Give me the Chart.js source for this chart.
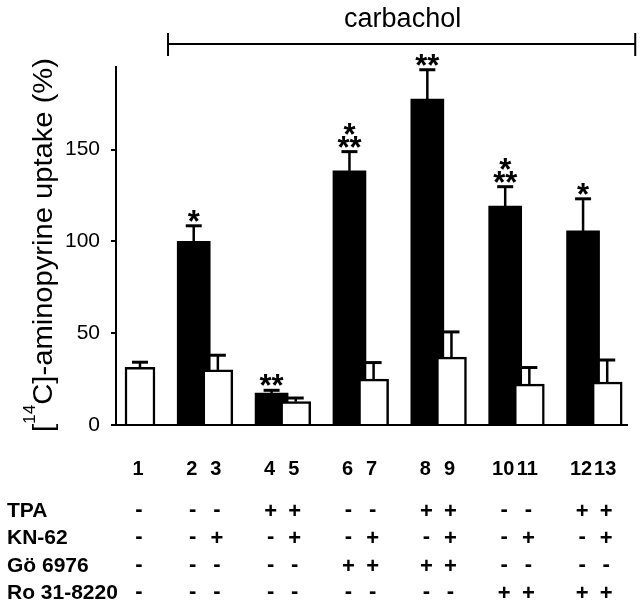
<!DOCTYPE html>
<html>
<head>
<meta charset="utf-8">
<script src="https://cdn.jsdelivr.net/npm/chart.js@4.4.0/dist/chart.umd.min.js"></script>
<style>
  html, body { margin: 0; padding: 0; background: #fff; }
  canvas { display: block; }
</style>
</head>
<body>
<canvas id="grafiek" width="640" height="607"></canvas>
<script>
// groepen: 0 = alleen controle (balk 1), daarna paren zwart/wit
const groups = [0, 1, 2, 3, 4, 5, 6];
const blackNumbers = ['', '2', '4', '6', '8', '10', '12'];
const whiteNumbers = ['1', '3', '5', '7', '9', '11', '13'];
const blackValues = [null, 100, 17.4, 138.4, 177.5, 119.3, 105.7];
const blackErrors = [null, 8.5, 1.5, 10.5, 16, 10.5, 17.5];
const whiteValues = [31.4, 30, 12.7, 25, 37, 22.3, 23.4];
const whiteErrors = [2.8, 8, 2, 9, 13.7, 9, 12];
const blackStars = [[], ['*'], ['**'], ['*', '**'], ['**'], ['*', '**'], ['*']];
const yTicks = [0, 50, 100, 150];

const rowLabels = ['TPA', 'KN-62', 'Gö 6976', 'Ro 31-8220'];
const tpa      = ['-', '-', '-', '+', '+', '-', '-', '+', '+', '-', '-', '+', '+'];
const kn62     = ['-', '-', '+', '-', '+', '-', '+', '-', '+', '-', '+', '-', '+'];
const go6976   = ['-', '-', '-', '-', '-', '+', '+', '+', '+', '-', '-', '-', '-'];
const ro318220 = ['-', '-', '-', '-', '-', '-', '-', '-', '-', '+', '+', '+', '+'];
const topLabel = 'carbachol';
const yTitle = ['[', '14', 'C]-aminopyrine uptake (%)'];

const FONT = "'Liberation Sans', Arial, Helvetica, sans-serif";
const SHIFT_BLACK = -0.15;
const SHIFT_WHITE = 0.16;

function tekstMidden(ctx, txt, x, yMid) {
  const m = ctx.measureText(txt);
  const off = (m.actualBoundingBoxAscent - m.actualBoundingBoxDescent) / 2;
  ctx.fillText(txt, x, yMid + off);
}

const extras = {
  id: 'extras',
  afterDatasetsDraw(chart) {
    const ctx = chart.ctx;
    const yScale = chart.scales.y;
    const xScale = chart.scales.x;
    const wit = chart.getDatasetMeta(0).data;
    const zwart = chart.getDatasetMeta(1).data;

    ctx.save();
    ctx.strokeStyle = '#000';
    ctx.fillStyle = '#000';

    // foutbalken (alleen naar boven)
    const foutbalk = (el, v, e) => {
      const top = yScale.getPixelForValue(v + e);
      ctx.lineWidth = 2.5;
      ctx.beginPath();
      ctx.moveTo(el.x, el.y);
      ctx.lineTo(el.x, top);
      ctx.stroke();
      ctx.lineWidth = 3;
      ctx.beginPath();
      ctx.moveTo(el.x - 8, top);
      ctx.lineTo(el.x + 8, top);
      ctx.stroke();
      return top;
    };
    groups.forEach((g, i) => {
      if (blackValues[i] !== null) {
        const top = foutbalk(zwart[i], blackValues[i], blackErrors[i]);
        ctx.font = 'bold 31px ' + FONT;
        ctx.textAlign = 'center';
        ctx.textBaseline = 'alphabetic';
        const lines = blackStars[i];
        lines.forEach((s, k) => {
          const pos = lines.length - 1 - k;
          tekstMidden(ctx, s, zwart[i].x, top - 10 - pos * 13);
        });
      }
      foutbalk(wit[i], whiteValues[i], whiteErrors[i]);
    });

    // balknummers en behandelingstabel
    const barX = [];
    groups.forEach((g, i) => {
      if (whiteNumbers[i]) barX[parseInt(whiteNumbers[i]) - 1] = wit[i].x;
      if (blackNumbers[i]) barX[parseInt(blackNumbers[i]) - 1] = zwart[i].x;
    });
    ctx.textAlign = 'center';
    ctx.font = 'bold 20px ' + FONT;
    barX.forEach((x, n) => tekstMidden(ctx, String(n + 1), x - 2, 468));

    const rijen = [tpa, kn62, go6976, ro318220];
    const rijY = [510, 537, 565, 592];
    ctx.font = 'bold 21px ' + FONT;
    ctx.textAlign = 'left';
    const capOff = ctx.measureText('TPA').actualBoundingBoxAscent / 2;
    rowLabels.forEach((lab, r) => ctx.fillText(lab, 7, rijY[r] + capOff));
    ctx.textAlign = 'center';
    ctx.font = 'bold 22px ' + FONT;
    rijen.forEach((rij, r) => {
      rij.forEach((s, n) => tekstMidden(ctx, s, barX[n] - 1, rijY[r]));
    });

    // carbachol-haak
    const x0 = xScale.getPixelForValue(0.52);
    const x1 = xScale.getPixelForValue(6.52);
    ctx.lineWidth = 2;
    ctx.beginPath();
    ctx.moveTo(x0, 44); ctx.lineTo(x1, 44);
    ctx.moveTo(x0, 33); ctx.lineTo(x0, 56);
    ctx.moveTo(x1, 33); ctx.lineTo(x1, 56);
    ctx.stroke();
    ctx.font = '27px ' + FONT;
    ctx.textAlign = 'center';
    ctx.fillText(topLabel, (x0 + x1) / 2 + 1, 27);

    // y-as titel met superscript
    ctx.translate(52, 432);
    ctx.rotate(-Math.PI / 2);
    ctx.textAlign = 'left';
    ctx.font = '27px ' + FONT;
    const w1 = ctx.measureText(yTitle[0]).width;
    const w3 = ctx.measureText(yTitle[2]).width;
    ctx.font = '16px ' + FONT;
    const w2 = ctx.measureText(yTitle[1]).width;
    ctx.scale(374 / (w1 + w2 + w3), 1);
    ctx.font = '27px ' + FONT;
    ctx.fillText(yTitle[0], 0, 0);
    ctx.fillText(yTitle[2], w1 + w2, 0);
    ctx.font = '16px ' + FONT;
    ctx.fillText(yTitle[1], w1, -17);
    ctx.restore();
  }
};

new Chart(document.getElementById('grafiek'), {
  type: 'bar',
  data: {
    datasets: [
      {
        label: 'wit',
        data: groups.map((g, i) => ({ x: g + SHIFT_WHITE, y: whiteValues[i] })),
        backgroundColor: '#fff',
        borderColor: '#000',
        borderWidth: 2.5,
        barThickness: 30,
        order: 0
      },
      {
        label: 'zwart',
        data: groups.map((g, i) => ({ x: g + SHIFT_BLACK, y: blackValues[i] })),
        backgroundColor: '#000',
        borderWidth: 0,
        barThickness: 33,
        order: 1
      }
    ]
  },
  options: {
    responsive: false,
    animation: false,
    grouped: false,
    layout: { padding: { left: 0, top: 67, right: 12, bottom: 182 } },
    plugins: { legend: { display: false }, tooltip: { enabled: false } },
    scales: {
      x: { type: 'linear', min: -0.148, max: 6.427, offset: false, display: false },
      y: {
        min: 0,
        max: 195,
        afterBuildTicks: s => { s.ticks = yTicks.map(v => ({ value: v })); },
        afterFit: s => { s.width = 116; },
        border: { display: true, color: '#000', width: 2 },
        grid: {
          drawOnChartArea: true,
          color: c => (c.tick && c.tick.value === 0 ? '#000' : 'rgba(0,0,0,0)'),
          tickColor: '#000',
          tickLength: 5,
          lineWidth: 2
        },
        ticks: { color: '#000', padding: 11, font: { family: FONT, size: 21 } }
      }
    }
  },
  plugins: [extras]
});
</script>
</body>
</html>
